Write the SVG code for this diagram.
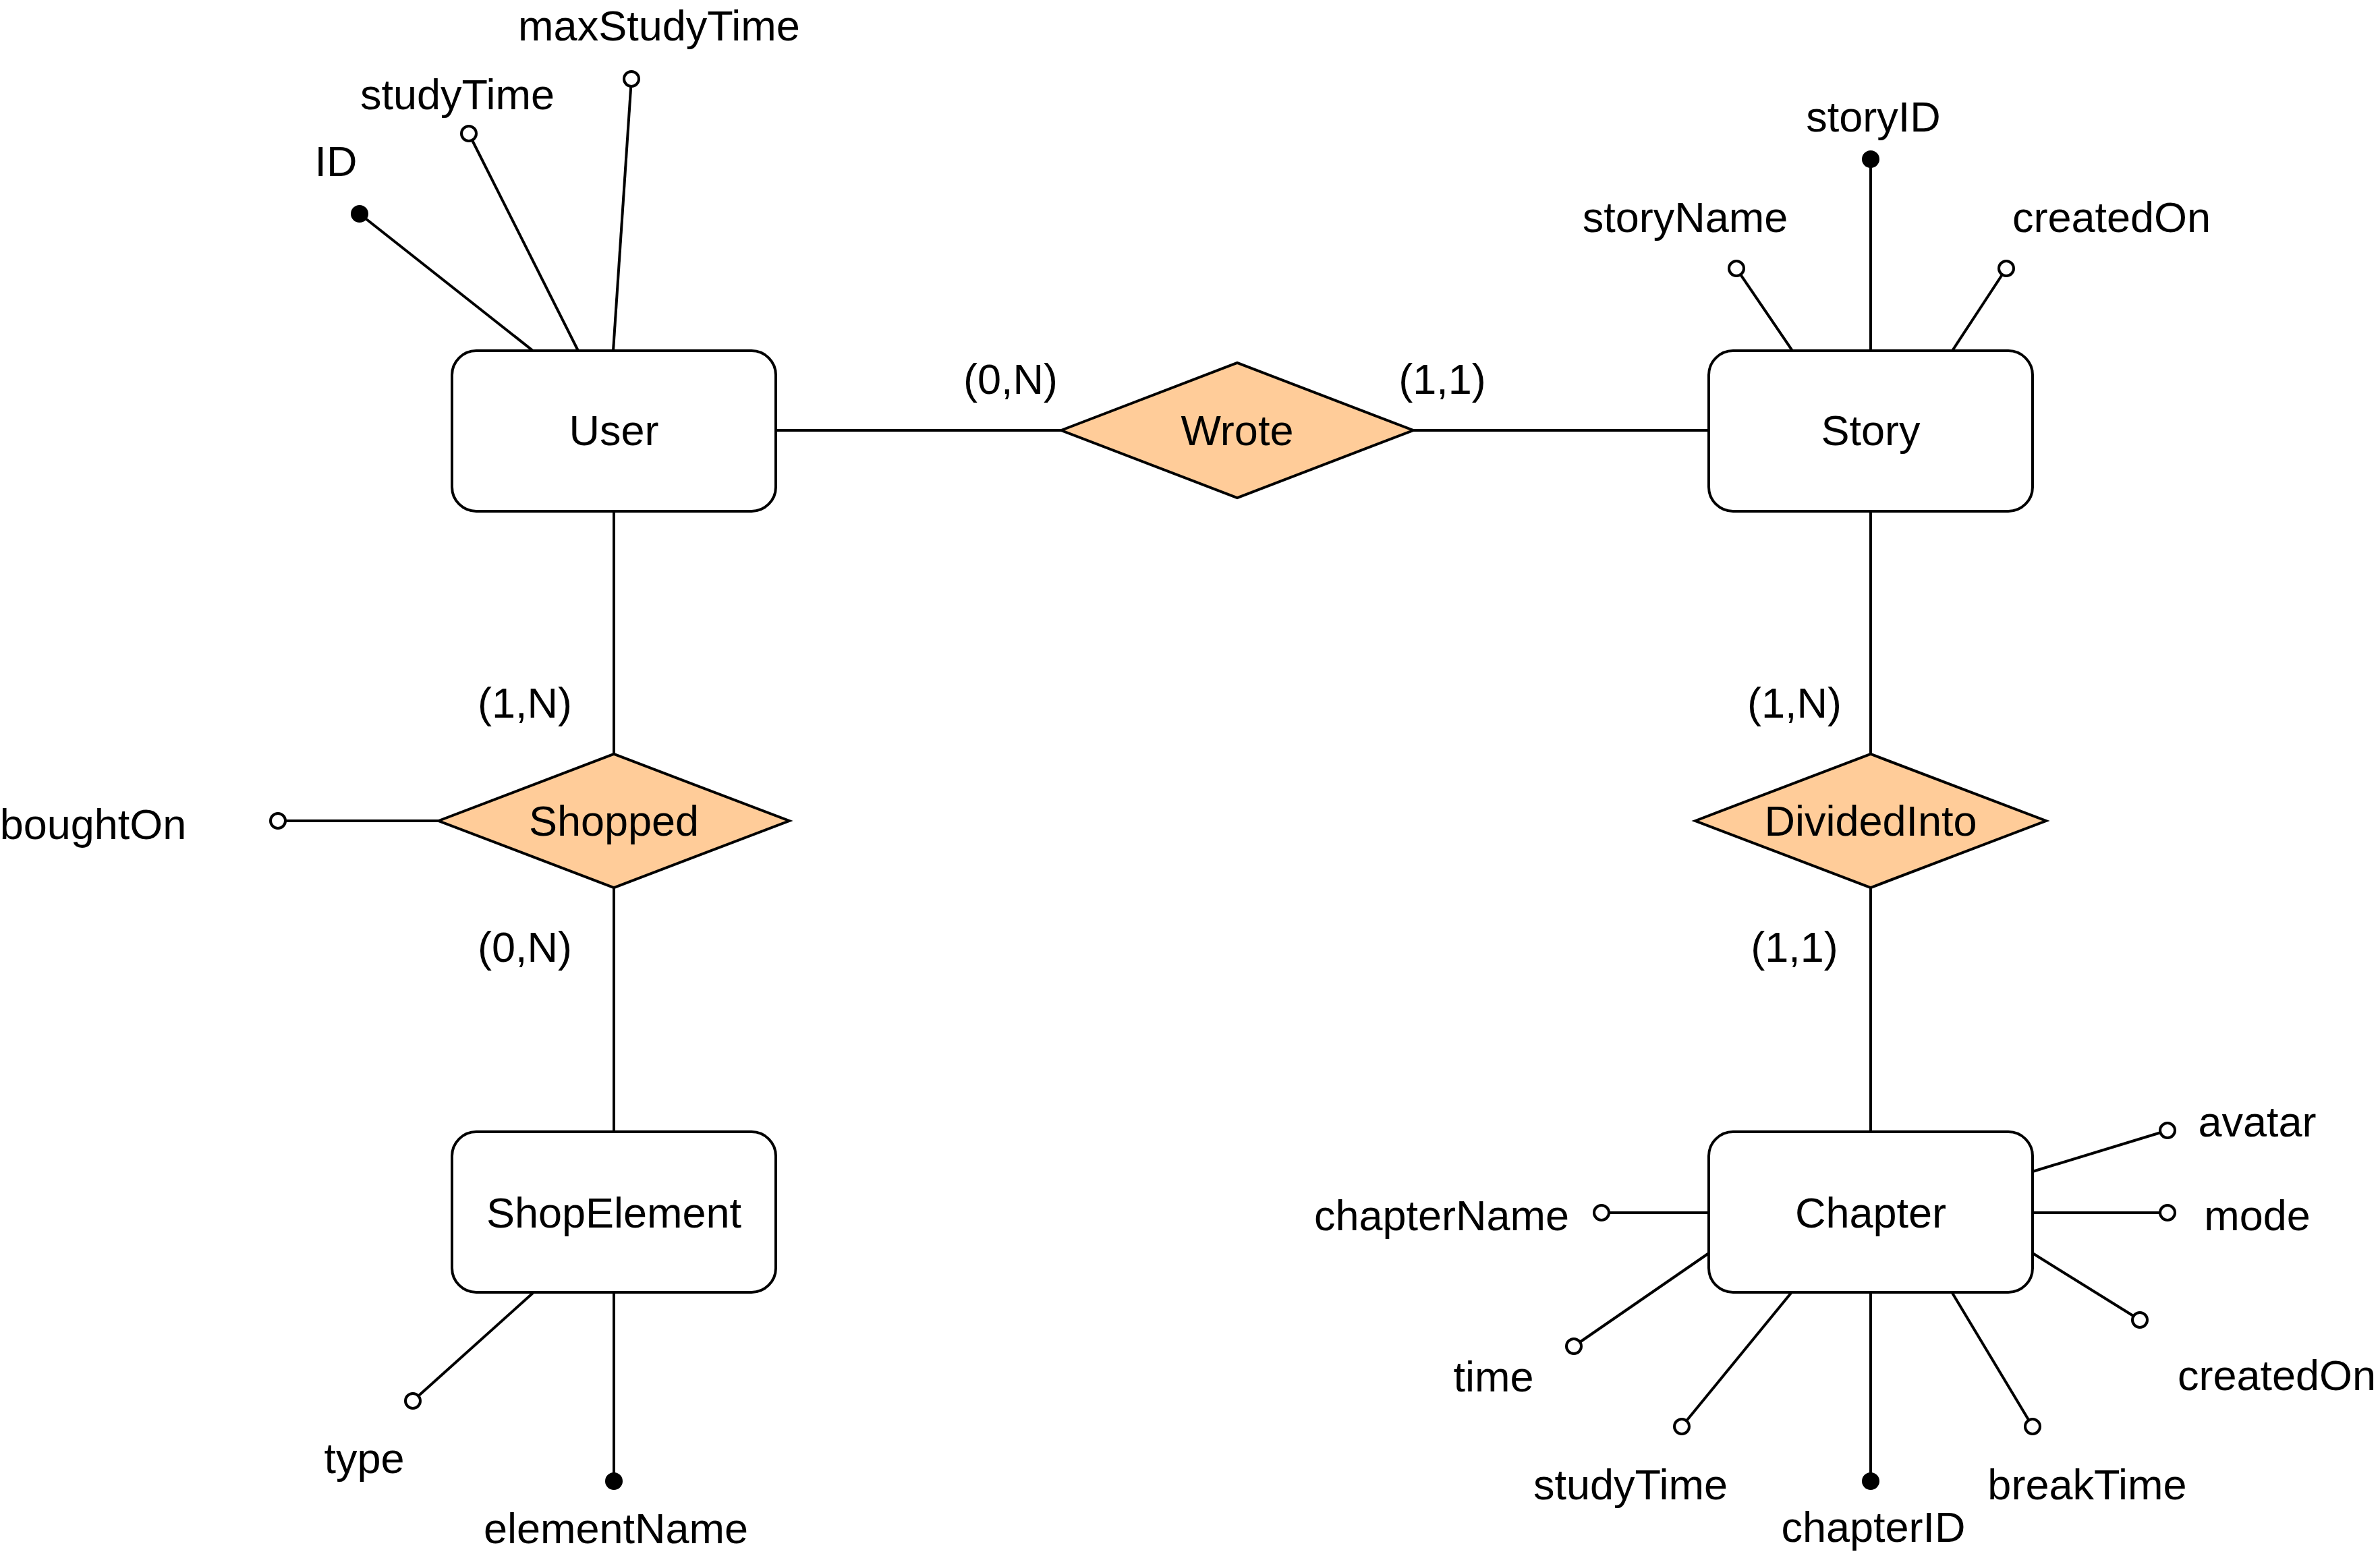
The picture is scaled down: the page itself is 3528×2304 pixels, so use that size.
<svg xmlns="http://www.w3.org/2000/svg" width="3528" height="2304" viewBox="0 0 3528 2304">
<style>
.ent{fill:#ffffff;stroke:#000;stroke-width:4}
.rel{fill:#FFCC99;stroke:#000;stroke-width:4;stroke-linejoin:miter}
.ln{stroke:#000;stroke-width:4;fill:none}
.att{fill:#ffffff;stroke:#000;stroke-width:4}
.key{fill:#000;stroke:#000;stroke-width:4}
text{font-family:"Liberation Sans",Arial,sans-serif;font-size:63px;fill:#000;text-anchor:middle}
</style>
<rect x="0" y="0" width="3528" height="2304" fill="#ffffff"/>
<g id="connectors">
<line class="ln" x1="1150" y1="638" x2="1573" y2="638"/>
<line class="ln" x1="2095" y1="638" x2="2533" y2="638"/>
<line class="ln" x1="910" y1="758" x2="910" y2="1118"/>
<line class="ln" x1="910" y1="1316" x2="910" y2="1678"/>
<line class="ln" x1="2773" y1="758" x2="2773" y2="1118"/>
<line class="ln" x1="2773" y1="1316" x2="2773" y2="1678"/>
<!-- User attrs -->
<line class="ln" x1="790" y1="520" x2="533" y2="317"/>
<line class="ln" x1="857" y1="520" x2="695" y2="198"/>
<line class="ln" x1="909" y1="520" x2="936" y2="117"/>
<!-- Story attrs -->
<line class="ln" x1="2773" y1="520" x2="2773" y2="236"/>
<line class="ln" x1="2657" y1="520" x2="2574" y2="398"/>
<line class="ln" x1="2894" y1="520" x2="2974" y2="398"/>
<!-- Shopped attr -->
<line class="ln" x1="650" y1="1217" x2="412" y2="1217"/>
<!-- ShopElement attrs -->
<line class="ln" x1="790" y1="1917" x2="612" y2="2077"/>
<line class="ln" x1="910" y1="1917" x2="910" y2="2196"/>
<!-- Chapter attrs -->
<line class="ln" x1="2533" y1="1798" x2="2374" y2="1798"/>
<line class="ln" x1="3013" y1="1737" x2="3213" y2="1676"/>
<line class="ln" x1="3013" y1="1798" x2="3213" y2="1798"/>
<line class="ln" x1="3013" y1="1858" x2="3172" y2="1957"/>
<line class="ln" x1="2894" y1="1917" x2="3013" y2="2115"/>
<line class="ln" x1="2773" y1="1917" x2="2773" y2="2196"/>
<line class="ln" x1="2655" y1="1917" x2="2493" y2="2115"/>
<line class="ln" x1="2533" y1="1858" x2="2333" y2="1996"/>
<!-- cardinalities -->
<text x="1498" y="584">(0,N)</text>
<text x="2138" y="584">(1,1)</text>
<text x="778" y="1064">(1,N)</text>
<text x="778" y="1426">(0,N)</text>
<text x="2660" y="1064">(1,N)</text>
<text x="2660" y="1426">(1,1)</text>
</g>
<g id="User">
<rect class="ent" x="670" y="520" width="480" height="238" rx="36"/>
<text x="910" y="660">User</text>
</g>
<g id="Story">
<rect class="ent" x="2533" y="520" width="480" height="238" rx="36"/>
<text x="2773" y="660">Story</text>
</g>
<g id="ShopElement">
<rect class="ent" x="670" y="1678" width="480" height="238" rx="36"/>
<text x="910" y="1820">ShopElement</text>
</g>
<g id="Chapter">
<rect class="ent" x="2533" y="1678" width="480" height="238" rx="36"/>
<text x="2773" y="1820">Chapter</text>
</g>
<g id="Wrote">
<polygon class="rel" points="1573,638 1834,538 2095,638 1834,738"/>
<text x="1834" y="660">Wrote</text>
</g>
<g id="Shopped">
<polygon class="rel" points="650,1217 910,1118 1170,1217 910,1316"/>
<text x="910" y="1239">Shopped</text>
</g>
<g id="DividedInto">
<polygon class="rel" points="2513,1217 2773,1118 3033,1217 2773,1316"/>
<text x="2773" y="1239">DividedInto</text>
</g>
<g id="attr-ID"><circle class="key" cx="533" cy="317" r="11"/><text x="498" y="261">ID</text></g>
<g id="attr-studyTime"><circle class="att" cx="695" cy="198" r="11"/><text x="678" y="162">studyTime</text></g>
<g id="attr-maxStudyTime"><circle class="att" cx="936" cy="117" r="11"/><text x="977" y="60">maxStudyTime</text></g>
<g id="attr-storyID"><circle class="key" cx="2773" cy="236" r="11"/><text x="2777" y="195">storyID</text></g>
<g id="attr-storyName"><circle class="att" cx="2574" cy="398" r="11"/><text x="2498" y="344">storyName</text></g>
<g id="attr-storyCreatedOn"><circle class="att" cx="2974" cy="398" r="11"/><text x="3130" y="344">createdOn</text></g>
<g id="attr-boughtOn"><circle class="att" cx="412" cy="1217" r="11"/><text x="138" y="1244">boughtOn</text></g>
<g id="attr-type"><circle class="att" cx="612" cy="2077" r="11"/><text x="540" y="2184">type</text></g>
<g id="attr-elementName"><circle class="key" cx="910" cy="2196" r="11"/><text x="913" y="2288">elementName</text></g>
<g id="attr-chapterName"><circle class="att" cx="2374" cy="1798" r="11"/><text x="2137" y="1824">chapterName</text></g>
<g id="attr-avatar"><circle class="att" cx="3213" cy="1676" r="11"/><text x="3346" y="1685">avatar</text></g>
<g id="attr-mode"><circle class="att" cx="3213" cy="1798" r="11"/><text x="3346" y="1824">mode</text></g>
<g id="attr-chapterCreatedOn"><circle class="att" cx="3172" cy="1957" r="11"/><text x="3375" y="2061">createdOn</text></g>
<g id="attr-breakTime"><circle class="att" cx="3013" cy="2115" r="11"/><text x="3094" y="2223">breakTime</text></g>
<g id="attr-chapterID"><circle class="key" cx="2773" cy="2196" r="11"/><text x="2777" y="2286">chapterID</text></g>
<g id="attr-chapterStudyTime"><circle class="att" cx="2493" cy="2115" r="11"/><text x="2417" y="2223">studyTime</text></g>
<g id="attr-time"><circle class="att" cx="2333" cy="1996" r="11"/><text x="2214" y="2063">time</text></g>
</svg>
